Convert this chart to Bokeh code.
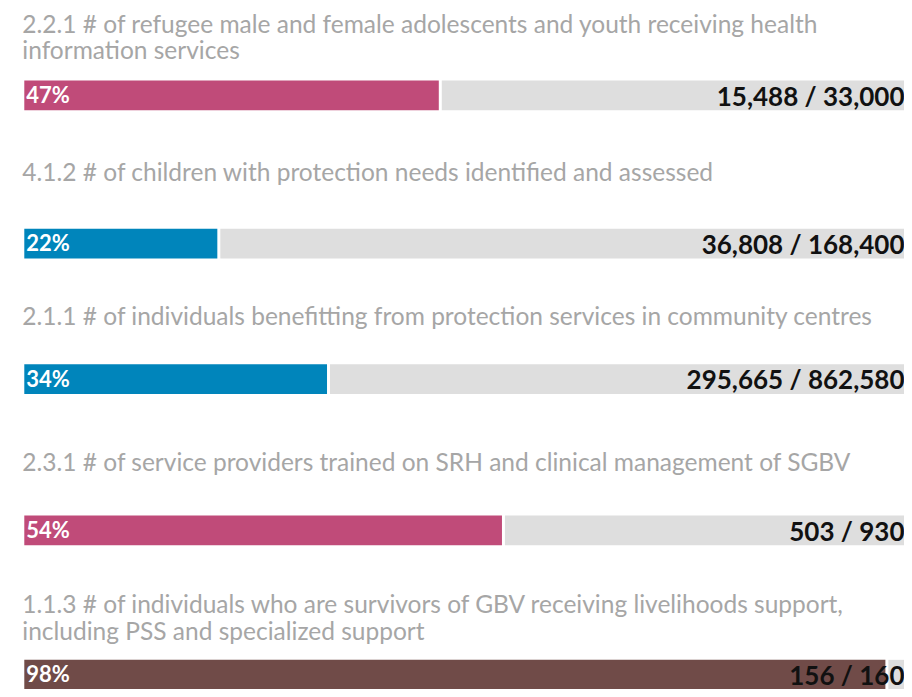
from bokeh.plotting import figure
from bokeh.models import Range1d, ColumnDataSource
from bokeh.core.properties import value
from bokeh.embed import file_html
from bokeh.resources import INLINE

# ---- data ----
title_lines = [
    ["2.2.1 # of refugee male and female adolescents and youth receiving health",
     "information services"],
    ["4.1.2 # of children with protection needs identified and assessed"],
    ["2.1.1 # of individuals benefitting from protection services in community centres"],
    ["2.3.1 # of service providers trained on SRH and clinical management of SGBV"],
    ["1.1.3 # of individuals who are survivors of GBV receiving livelihoods support,",
     "including PSS and specialized support"],
]
achieved = [15488, 36808, 295665, 503, 156]
targets = [33000, 168400, 862580, 930, 160]
bar_colors = ["#c04b79", "#0085bb", "#0085bb", "#c04b79", "#704b48"]

# ---- layout (reference pixel rows) ----
FIG_W, FIG_H = 904, 689
REF_W, REF_H = 912, 697
BAR_X0 = 24            # reference px of bar start
BAR_W = 891            # reference px length of a full bar
bar_tops = [81, 231, 368, 521, 667]
BAR_H = 30
title_baselines = [[32, 59], [182], [328], [475], [619, 646]]
GAP = 3 / BAR_W
TEXT_SHIFT = -9        # svg alphabetic-baseline correction, screen px

fracs = [a / t for a, t in zip(achieved, targets)]
pct_labels = [f"{round(f * 100)}%" for f in fracs]
val_labels = [f"{a:,} / {t:,}" for a, t in zip(achieved, targets)]
centers = [t + BAR_H / 2 for t in bar_tops]

p = figure(width=FIG_W, height=FIG_H, output_backend="svg", toolbar_location=None,
           x_range=Range1d(-BAR_X0 / BAR_W, (REF_W - BAR_X0) / BAR_W),
           y_range=Range1d(REF_H, 0), min_border=0)
p.axis.visible = False
p.grid.visible = False
p.outline_line_color = None
p.background_fill_color = "white"
p.border_fill_color = "white"

bars = ColumnDataSource(dict(y=centers, frac=fracs, start=[f + GAP for f in fracs],
                             color=bar_colors, pct=pct_labels, val=val_labels,
                             pbase=[t + 23 for t in bar_tops],
                             vbase=[t + 24.5 for t in bar_tops]))
p.hbar(y="y", left="start", right=1.2, height=BAR_H, source=bars,
       fill_color="#dedede", line_color=None)
p.hbar(y="y", left=0, right="frac", height=BAR_H, source=bars,
       fill_color="color", line_color=None)

p.text(x=0, y="pbase", text="pct", source=bars, x_offset=2, y_offset=TEXT_SHIFT,
       text_font=value("Lato"), text_font_style="bold", text_font_size="22px",
       text_color="white", text_baseline="alphabetic", text_align="left")
p.text(x=(REF_W - BAR_X0) / BAR_W, y="vbase", text="val", source=bars, y_offset=TEXT_SHIFT,
       text_font=value("Lato"), text_font_style="bold", text_font_size="26px",
       text_color="#111111", text_baseline="alphabetic", text_align="right")

tx, ty, tt = [], [], []
for lines, bls in zip(title_lines, title_baselines):
    for line, b in zip(lines, bls):
        tx.append(-2 / BAR_W)
        ty.append(b)
        tt.append(line)
p.text(x=tx, y=ty, text=tt, y_offset=TEXT_SHIFT, text_font=value("Lato"),
       text_font_size="24.5px", text_color="#a6a6a6",
       text_baseline="alphabetic", text_align="left")

open("out.html", "w").write(file_html(p, INLINE))
